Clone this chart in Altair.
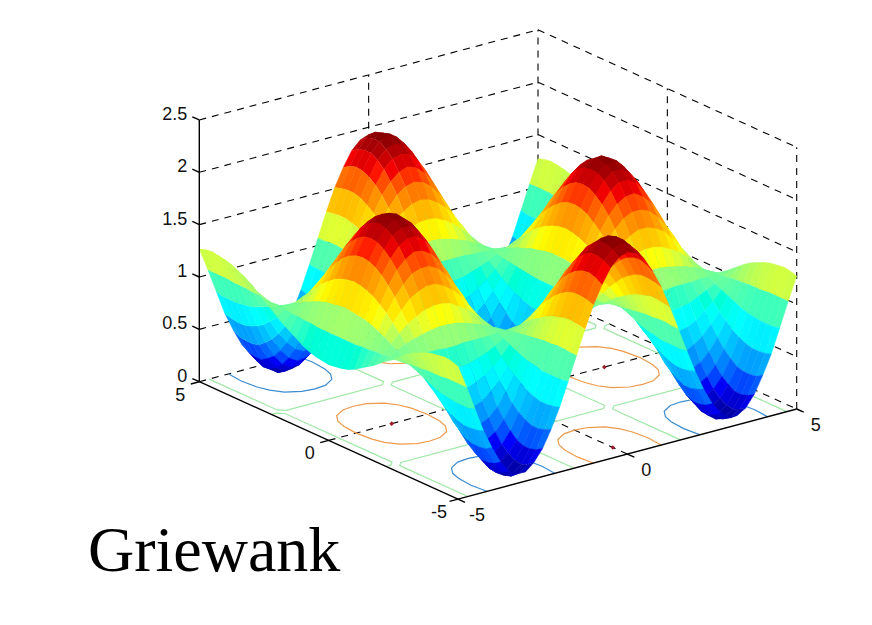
import altair as alt
import pandas as pd

alt.data_transformers.disable_max_rows()

# heights (hundredths) read off one quadrant of the surface, which is mirror-symmetric:
# rows y = 0 ... 5, columns x = 0 ... 5, both in steps of 0.25
grid_step = 0.25
z_quadrant = [
 [0,3,12,27,46,69,93,118,142,163,180,192,199,199,194,182,166,145,122,97,72],
 [2,5,14,28,47,69,93,118,141,162,179,191,197,198,192,181,165,144,121,97,73],
 [6,9,18,31,49,71,93,117,139,159,175,187,193,193,188,177,162,142,120,97,74],
 [14,16,24,37,53,73,94,115,136,154,169,180,186,186,181,171,157,139,119,97,76],
 [24,26,33,44,59,76,95,114,132,148,161,170,175,176,171,163,150,134,117,98,79],
 [37,39,44,54,66,80,96,111,127,140,151,159,163,163,160,152,142,129,114,98,83],
 [51,53,57,64,74,85,97,109,120,131,139,145,149,149,146,141,132,122,111,99,87],
 [67,68,71,76,82,90,98,106,114,121,126,131,133,133,131,127,122,115,107,99,91],
 [84,85,86,89,92,95,99,103,107,110,113,115,116,116,115,113,111,108,104,100,96],
 [102,102,102,102,101,101,100,100,99,99,99,99,98,98,99,99,99,100,100,101,101],
 [120,119,117,114,111,106,102,97,92,88,85,82,81,81,82,84,88,92,96,101,106],
 [137,136,132,127,120,112,103,94,85,77,71,67,64,64,66,70,77,84,93,102,111],
 [153,151,146,139,129,117,104,91,78,67,59,52,49,48,52,58,67,77,90,103,116],
 [167,165,159,149,136,121,105,88,73,59,47,39,35,34,38,46,57,71,87,103,120],
 [179,176,169,158,143,125,106,86,68,51,38,28,23,22,27,36,49,65,84,104,123],
 [188,186,178,165,148,128,107,85,64,45,30,19,13,13,18,28,43,61,82,104,126],
 [195,192,184,170,152,130,107,83,61,41,24,13,7,6,12,23,38,58,81,104,128],
 [200,197,188,173,154,132,108,83,59,38,21,9,3,2,8,19,36,56,80,105,129],
 [200,197,188,174,154,132,108,83,59,38,21,8,2,2,7,19,36,56,80,105,130],
 [198,195,186,172,153,131,107,83,60,40,23,11,5,4,10,21,37,57,80,105,129],
 [193,190,182,168,151,130,107,84,62,43,27,16,9,9,14,25,41,59,82,105,127],
]
half = [row[:0:-1] + row for row in z_quadrant]
z_rows = half[:0:-1] + half   # rows y = -5 ... 5

# axes
z_ticks = [0, 0.5, 1, 1.5, 2, 2.5]
z_labels = ["0", "0.5", "1", "1.5", "2", "2.5"]
xy_ticks = [-5, 0, 5]
xy_labels = ["-5", "0", "5"]
title_text = "Griewank"

# contours on the floor, in data units
ring_u = [0,.35,.7,.9,1.0,1.05,1.0,.9,.7,.35,0,-.35,-.7,-.9,-1.0,-1.05,-1.0,-.9,-.7,-.35,0]
ring_v = [1.48,1.43,1.21,.9,.55,0,-.55,-.9,-1.21,-1.43,-1.48,-1.43,-1.21,-.9,-.55,0,.55,.9,1.21,1.43,1.48]
peak_centres = [(-3.14,0),(3.14,0),(0,-4.44),(0,4.44)]
pit_centres = [(-3.14,4.44),(3.14,4.44),(-3.14,-4.44),(3.14,-4.44),(0,0)]
green_paths = [
 [(-4.71,5),(-4.71,2.37),(-4.56,2.22),(-1.72,2.22),(-1.57,2.37),(-1.57,5)],
 [(1.57,5),(1.57,2.37),(1.72,2.22),(4.56,2.22),(4.71,2.37),(4.71,5)],
 [(-4.71,-5),(-4.71,-2.37),(-4.56,-2.22),(-1.72,-2.22),(-1.57,-2.37),(-1.57,-5)],
 [(1.57,-5),(1.57,-2.37),(1.72,-2.22),(4.56,-2.22),(4.71,-2.37),(4.71,-5)],
 [(-5,2.22),(-4.86,2.22),(-4.71,2.07),(-4.71,-2.07),(-4.86,-2.22),(-5,-2.22)],
 [(5,2.22),(4.86,2.22),(4.71,2.07),(4.71,-2.07),(4.86,-2.22),(5,-2.22)],
 [(-1.42,2.22),(1.42,2.22),(1.57,2.07),(1.57,-2.07),(1.42,-2.22),(-1.42,-2.22),(-1.57,-2.07),(-1.57,2.07),(-1.42,2.22)],
]

# view: parallel projection onto the page
W, H = 856, 609
def proj(x, y, z=0.0):
    return (498.0 + 33.87 * x - 25.87 * y, 395.35 - 9.01 * x - 11.74 * y - 104.7 * z)

def lines(segments):
    rows = []
    for gid, seg in enumerate(segments):
        for k, p in enumerate(seg):
            px, py = proj(*p)
            rows.append({"px": px, "py": py, "gid": gid, "k": k})
    return pd.DataFrame(rows)

X = alt.X("px:Q", axis=None, scale=alt.Scale(domain=[8, 8 + W], range=[0, W]))
Y = alt.Y("py:Q", axis=None, scale=alt.Scale(domain=[8 + H, 8], range=[H, 0]))

def line_layer(segments, **mark):
    return alt.Chart(lines(segments)).mark_line(**mark).encode(
        x=X, y=Y, detail="gid:N", order="k:Q")

# dashed box
dash = []
for z in z_ticks:
    dash.append([(-5, 5, z), (5, 5, z)])
    dash.append([(5, 5, z), (5, -5, z)])
dash += [[(0, 5, 0), (0, 5, 2.5)], [(5, 5, 0), (5, 5, 2.5)],
         [(5, 0, 0), (5, 0, 2.5)], [(5, -5, 0), (5, -5, 2.5)],
         [(0, -5, 0), (0, 5, 0)], [(-5, 0, 0), (5, 0, 0)]]

# solid axes and ticks
solid = [[(-5, 5, 0), (-5, 5, 2.5)], [(-5, 5, 0), (-5, -5, 0)], [(-5, -5, 0), (5, -5, 0)]]
for z in z_ticks:
    solid.append([(-5, 5, z), (-5, 5.27, z)])
for t in xy_ticks:
    solid.append([(-5, t, 0), (-5.25, t, 0)])
    solid.append([(t, -5, 0), (t, -5.27, 0)])

# surface quads, back to front (z_rows run y low to high)
n = len(z_rows)
rows = []
qid = 0
for i in range(n - 2, -1, -1):        # x high to low
    for j in range(n - 2, -1, -1):    # y high to low
        corners = [(i, j), (i + 1, j), (i + 1, j + 1), (i, j + 1)]
        zs = [z_rows[b][a] / 100 for a, b in corners]
        zm = sum(zs) / 4
        for k, ((a, b), z) in enumerate(zip(corners, zs)):
            px, py = proj(-5 + a * grid_step, -5 + b * grid_step, z)
            rows.append({"px": round(px, 2), "py": round(py, 2), "q": qid, "k": k, "zm": round(zm, 3)})
        qid += 1
quads = pd.DataFrame(rows)

jet = alt.Scale(
    domain=[0, 0.22, 0.73, 1.25, 1.75, 2.0],
    range=["#00008f", "#0000ff", "#00ffff", "#ffff00", "#ff0000", "#800000"],
)
surface = alt.Chart(quads).mark_line(filled=True, strokeWidth=0.5).encode(
    x=X, y=Y, detail="q:N", order="k:Q",
    fill=alt.Fill("zm:Q", scale=jet, legend=None),
    stroke=alt.Stroke("zm:Q", scale=jet, legend=None),
)

# contour paths
def ring(c):
    sign = -1 if c[1] < 0 else 1
    pts = [(c[0] + u, c[1] + sign * v) for u, v in zip(ring_u, ring_v)]
    return [p for p in pts if abs(p[1]) <= 5]

blue = line_layer([ring(c) for c in pit_centres], color="#3c8ccf", strokeWidth=1.2)
orange = line_layer([ring(c) for c in peak_centres], color="#ee9a4d", strokeWidth=1.2)
green = line_layer(green_paths, color="#9fe8a5", strokeWidth=1.2)

dots = pd.DataFrame([dict(zip(("px", "py"), proj(*c))) for c in peak_centres])
red = alt.Chart(dots).mark_point(filled=True, color="#9c1c2c", size=22, opacity=1, shape="diamond").encode(x=X, y=Y)

# text
zt = pd.DataFrame([{"px": proj(-5, 5, z)[0] - 12, "py": proj(-5, 5, z)[1] - 5, "t": s}
                   for z, s in zip(z_ticks, z_labels)])
yt = [{"px": proj(-5, t)[0] - 19, "py": proj(-5, t)[1] + 14, "t": s} for t, s in zip(xy_ticks, xy_labels)]
xt = [{"px": proj(t, -5)[0] + 19, "py": proj(t, -5)[1] + 17, "t": s} for t, s in zip(xy_ticks, xy_labels)]
font = "Liberation Sans"
ztext = alt.Chart(zt).mark_text(align="right", baseline="middle", font=font, fontSize=18, color="#111").encode(x=X, y=Y, text="t:N")
xytext = alt.Chart(pd.DataFrame(yt + xt)).mark_text(align="center", baseline="middle", font=font, fontSize=18, color="#111").encode(x=X, y=Y, text="t:N")
title = alt.Chart(pd.DataFrame([{"px": 88, "py": 571, "t": title_text}])).mark_text(
    align="left", baseline="alphabetic", font="Liberation Serif", fontSize=64, color="#000").encode(x=X, y=Y, text="t:N")

chart = alt.layer(
    line_layer(dash, color="#000", strokeWidth=1.1, strokeDash=[7, 6]),
    green, blue, orange, red,
    surface,
    line_layer(solid, color="#000", strokeWidth=1.4),
    ztext, xytext, title,
).resolve_scale(x="shared", y="shared").properties(
    width=W, height=H, padding=0, autosize=alt.AutoSizeParams(type="none"),
    background="white",
).configure_view(stroke=None)

chart.save("out.html", embed_options={"renderer": "svg", "actions": False})
